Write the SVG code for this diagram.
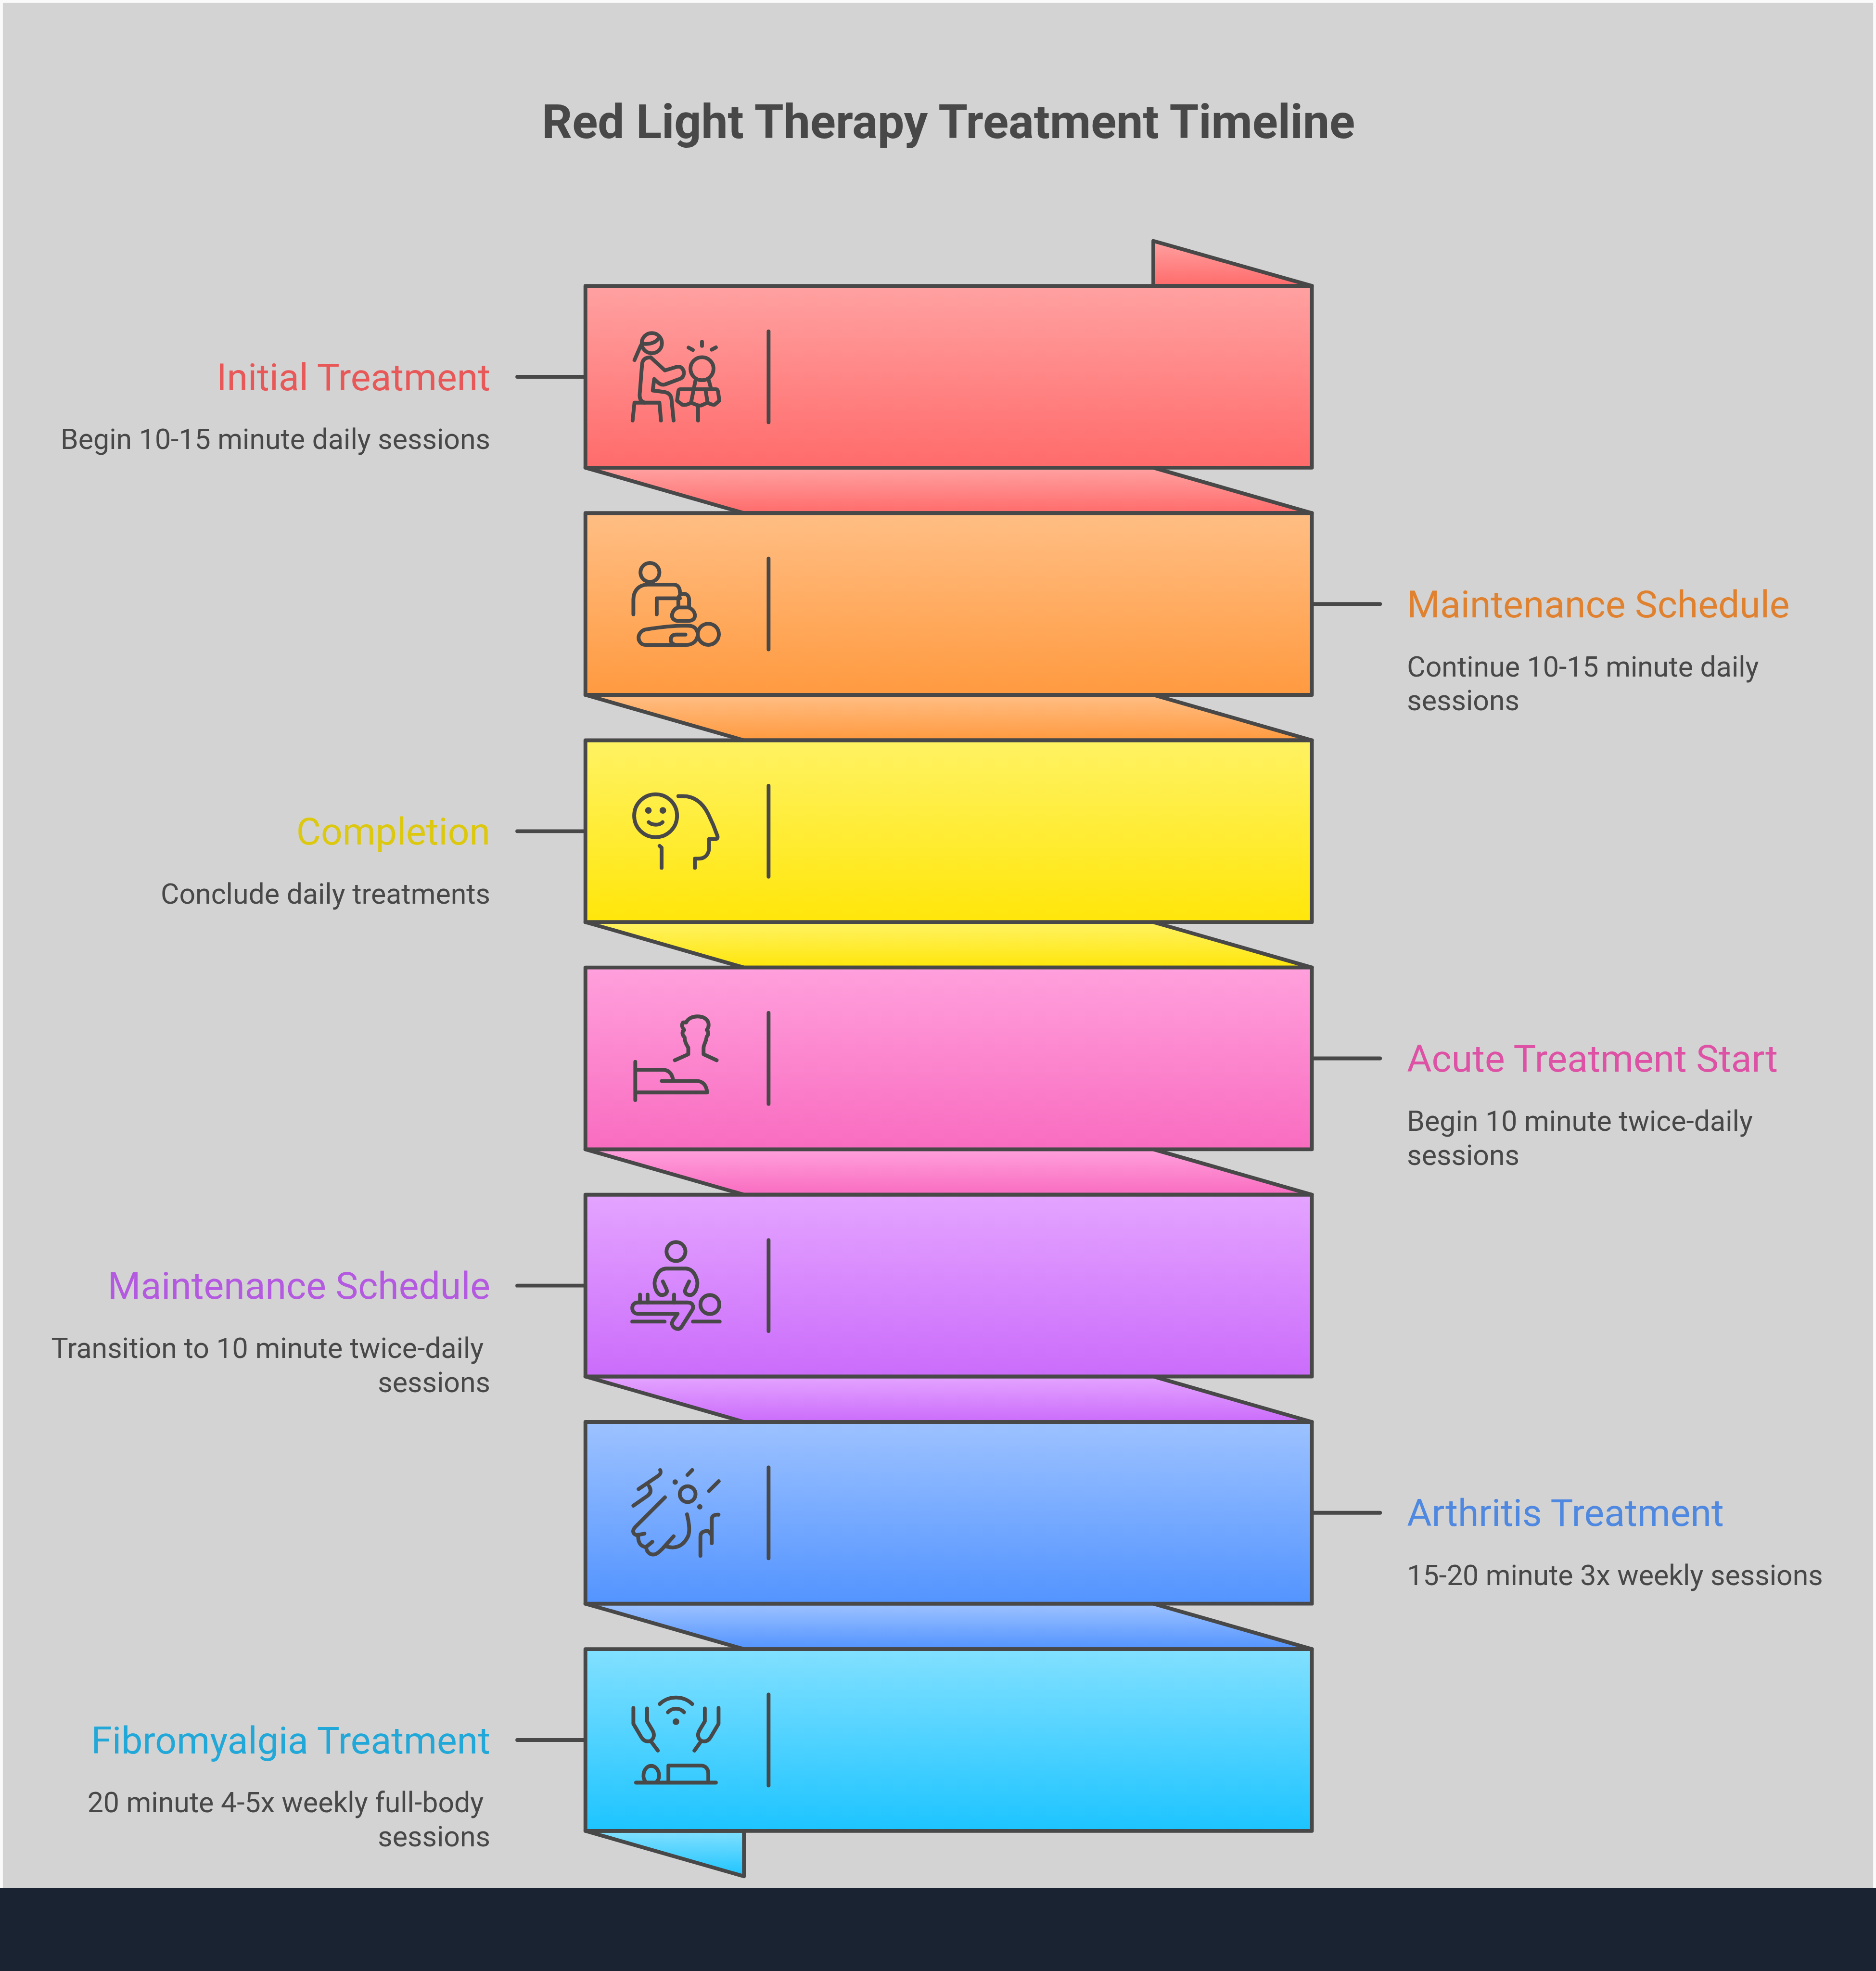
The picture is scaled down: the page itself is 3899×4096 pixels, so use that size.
<svg xmlns="http://www.w3.org/2000/svg" width="3899" height="4096" viewBox="0 0 3899 4096">
<defs>
<linearGradient id="g1" x1="0" y1="0" x2="0" y2="1"><stop offset="0" stop-color="#ffa1a1"/><stop offset="1" stop-color="#ff6b6b"/></linearGradient>
<linearGradient id="g2" x1="0" y1="0" x2="0" y2="1"><stop offset="0" stop-color="#ffbe84"/><stop offset="1" stop-color="#ff9a40"/></linearGradient>
<linearGradient id="g3" x1="0" y1="0" x2="0" y2="1"><stop offset="0" stop-color="#fff263"/><stop offset="1" stop-color="#ffe60a"/></linearGradient>
<linearGradient id="g4" x1="0" y1="0" x2="0" y2="1"><stop offset="0" stop-color="#ffa0dc"/><stop offset="1" stop-color="#f96cc0"/></linearGradient>
<linearGradient id="g5" x1="0" y1="0" x2="0" y2="1"><stop offset="0" stop-color="#e4a4ff"/><stop offset="1" stop-color="#cb6cfb"/></linearGradient>
<linearGradient id="g6" x1="0" y1="0" x2="0" y2="1"><stop offset="0" stop-color="#9dc2ff"/><stop offset="1" stop-color="#5394ff"/></linearGradient>
<linearGradient id="g7" x1="0" y1="0" x2="0" y2="1"><stop offset="0" stop-color="#82e0ff"/><stop offset="1" stop-color="#1dc4ff"/></linearGradient>
</defs>
<style>
.s{stroke:#484848;stroke-width:8;stroke-linejoin:round;stroke-linecap:round}
.i{fill:none;stroke:#484848;stroke-width:24;stroke-linejoin:round;stroke-linecap:round}
.d{fill:#484848;stroke:none}
text{font-family:Roboto,"Liberation Sans",sans-serif}
.t{font-size:100px;font-weight:700;fill:#484848;text-anchor:middle}
.h{font-size:80px}
.b{font-size:60px;fill:#484848}
.r{text-anchor:end}
</style>
<rect width="3899" height="4096" fill="#fafafa"/>
<g transform="scale(0.98361 0.98367)">
<rect x="6" y="6" width="3952" height="3984" fill="#d3d3d3"/>
<rect x="0" y="3989" width="3964" height="175" fill="#1a2332"/>
<text class="t" x="2004" y="292">Red Light Therapy Treatment Timeline</text>

<g id="connectors" class="s">
<line x1="1093" y1="796" x2="1237" y2="796"/>
<line x1="2772" y1="1276" x2="2916" y2="1276"/>
<line x1="1093" y1="1756" x2="1237" y2="1756"/>
<line x1="2772" y1="2236" x2="2916" y2="2236"/>
<line x1="1093" y1="2716" x2="1237" y2="2716"/>
<line x1="2772" y1="3196" x2="2916" y2="3196"/>
<line x1="1093" y1="3676" x2="1237" y2="3676"/>
</g>

<g id="step1">
<polygon class="s" fill="url(#g1)" points="2437,509 2772,604 2437,604"/>
<polygon class="s" fill="url(#g1)" points="1237,988 2437,988 2772,1084 1572,1084"/>
<rect class="s" fill="url(#g1)" x="1237" y="604" width="1535" height="384"/>
<line class="s" x1="1624" y1="700" x2="1624" y2="892"/>
<g class="i" transform="translate(1220 480) scale(.3333)">
<circle cx="472" cy="735" r="64"/>
<path d="M408 738C450 745 495 735 515 705M402 750L362 842"/>
<path d="M465 825L555 908L630 885C660 878 678 905 675 930C672 950 660 960 640 965L555 997C530 1005 510 985 487 962L478 1035L555 1045C585 1050 595 1070 597 1095L610 1225"/>
<path d="M465 825C430 825 412 840 410 870L395 1060C393 1090 405 1105 425 1112"/>
<path d="M350 1225L362 1112L520 1112L530 1225"/>
<circle cx="790" cy="897" r="73"/>
<path d="M650 1027L880 1027C890 1027 892 1040 893 1050L900 1100L870 1125C855 1128 840 1120 825 1112L785 1130L765 1130L720 1112C705 1122 685 1130 665 1125L632 1100L640 1040C640 1033 645 1027 650 1027Z"/>
<path d="M748 975L722 1105M833 970L848 1025M812 1030L825 1108M765 1130L765 1225M705 763L732 778M790 726L790 752M852 776L878 762"/>
</g>
<text class="h r" fill="#e85858" x="1036" y="824">Initial Treatment</text>
<text class="b r" x="1036" y="949">Begin 10-15 minute daily sessions</text>
</g>

<g id="step2">
<polygon class="s" fill="url(#g2)" points="1237,1468 2437,1468 2772,1564 1572,1564"/>
<rect class="s" fill="url(#g2)" x="1237" y="1084" width="1535" height="384"/>
<line class="s" x1="1624" y1="1180" x2="1624" y2="1372"/>
<g class="i" transform="translate(1280 1150) scale(.3333)">
<circle cx="280" cy="178" r="60"/>
<path d="M175 443L175 350C175 295 210 255 265 255L430 255C460 255 470 280 470 305"/>
<path d="M323 443L323 342L470 342"/>
<path d="M460 395L460 350C460 325 475 313 495 313C515 313 528 330 528 350L528 395"/>
<path d="M460 400L525 400C550 410 565 430 565 452C565 475 545 485 520 485L460 485C435 485 420 470 420 452C420 425 440 405 460 400Z"/>
<path d="M505 572L445 572C420 572 412 590 412 605C412 620 425 637 445 637"/>
<path d="M510 637L250 637C225 637 208 615 208 592C208 565 230 545 250 540C340 525 420 515 510 515L540 517C575 525 590 560 580 590C570 620 545 637 510 637Z"/>
<circle cx="650" cy="570" r="67"/>
</g>
<text class="h" fill="#e0812f" x="2973" y="1304">Maintenance Schedule</text>
<text class="b" x="2973" y="1429">Continue 10-15 minute daily</text>
<text class="b" x="2973" y="1501">sessions</text>
</g>

<g id="step3">
<polygon class="s" fill="url(#g3)" points="1237,1948 2437,1948 2772,2044 1572,2044"/>
<rect class="s" fill="url(#g3)" x="1237" y="1564" width="1535" height="384"/>
<line class="s" x1="1624" y1="1660" x2="1624" y2="1852"/>
<g class="i" transform="translate(1280 1640) scale(.3333)">
<circle cx="316" cy="250" r="136"/>
<circle class="d" cx="270" cy="216" r="21"/>
<circle class="d" cx="362" cy="216" r="21"/>
<path d="M272 291C295 312 340 312 360 291M341 441L354 453L354 580"/>
<path d="M460 126L490 126C570 126 620 180 650 240C675 290 695 340 708 378C712 392 705 398 695 398L655 398L655 460C650 500 625 522 590 522L565 522L565 580"/>
</g>
<text class="h r" fill="#dcc80f" x="1036" y="1784">Completion</text>
<text class="b r" x="1036" y="1909">Conclude daily treatments</text>
</g>

<g id="step4">
<polygon class="s" fill="url(#g4)" points="1237,2428 2437,2428 2772,2524 1572,2524"/>
<rect class="s" fill="url(#g4)" x="1237" y="2044" width="1535" height="384"/>
<line class="s" x1="1624" y1="2140" x2="1624" y2="2332"/>
<g class="i" transform="translate(1280 2110) scale(.3333)">
<path d="M187 400L187 642M187 450L360 450C400 450 420 475 427 515M355 521L575 521C615 521 640 550 642 594L187 594"/>
<path d="M438 390L523 352L523 310C515 295 500 280 500 245C485 230 480 210 497 198C480 175 480 165 490 150L510 150C520 125 550 112 580 112C620 112 652 130 652 165C652 185 645 190 640 198C655 210 650 230 640 240C635 280 620 290 620 310L620 352L703 390"/>
</g>
<text class="h" fill="#dd52a5" x="2973" y="2264">Acute Treatment Start</text>
<text class="b" x="2973" y="2389">Begin 10 minute twice-daily</text>
<text class="b" x="2973" y="2461">sessions</text>
</g>

<g id="step5">
<polygon class="s" fill="url(#g5)" points="1237,2908 2437,2908 2772,3004 1572,3004"/>
<rect class="s" fill="url(#g5)" x="1237" y="2524" width="1535" height="384"/>
<line class="s" x1="1624" y1="2620" x2="1624" y2="2812"/>
<g class="i" transform="translate(1280 2590) scale(.3333)">
<circle cx="445" cy="162" r="60"/>
<path d="M362 352L385 400C395 425 375 438 355 438C335 438 325 420 318 405C305 375 305 350 320 320C335 285 360 270 385 270L505 270C530 270 555 285 570 320C585 350 585 375 572 405C565 420 555 438 535 438C515 438 495 425 505 400L528 352"/>
<path d="M217 435L217 485M265 435L265 485M433 435L433 485"/>
<path d="M205 485L520 485C550 485 560 510 550 530L480 640C465 660 440 655 425 635C415 620 420 610 425 600L455 557L205 557C180 557 168 540 168 520C168 500 180 485 205 485Z"/>
<path d="M168 606L373 606M553 606L722 606"/>
<circle cx="660" cy="498" r="60"/>
</g>
<text class="h r" fill="#b45ae0" x="1036" y="2744">Maintenance Schedule</text>
<text class="b r" x="1022" y="2869">Transition to 10 minute twice-daily</text>
<text class="b r" x="1036" y="2941">sessions</text>
</g>

<g id="step6">
<polygon class="s" fill="url(#g6)" points="1237,3388 2437,3388 2772,3484 1572,3484"/>
<rect class="s" fill="url(#g6)" x="1237" y="3004" width="1535" height="384"/>
<line class="s" x1="1624" y1="3100" x2="1624" y2="3292"/>
<g class="i" transform="translate(1280 3070) scale(.3333)">
<path d="M345 107C352 125 345 135 330 145L208 228M275 210C290 235 285 255 265 270L175 333"/>
<path d="M375 280L190 465C165 490 170 510 195 520L245 510M205 525C205 560 215 590 255 595L295 562"/>
<path d="M255 595C260 630 285 650 315 640C330 635 345 620 360 605L430 527M380 590C440 610 490 590 520 530C535 500 530 450 515 388"/>
<circle class="d" cx="440" cy="183" r="17"/>
<circle class="d" cx="596" cy="340" r="17"/>
<circle cx="519" cy="260" r="50"/>
<path d="M518 138L548 107M654 240L716 178"/>
<path d="M600 650L600 530C600 500 620 492 650 494L672 520M672 570L672 420C672 395 690 388 715 390"/>
</g>
<text class="h" fill="#4f88e0" x="2973" y="3224">Arthritis Treatment</text>
<text class="b" x="2973" y="3349">15-20 minute 3x weekly sessions</text>
</g>

<g id="step7">
<polygon class="s" fill="url(#g7)" points="1237,3868 1572,3964 1572,3868"/>
<rect class="s" fill="url(#g7)" x="1237" y="3484" width="1535" height="384"/>
<line class="s" x1="1624" y1="3580" x2="1624" y2="3772"/>
<g class="i" transform="translate(1220 3500) scale(.3333)">
<path d="M355 325L355 425L405 510C420 535 440 540 460 535C490 520 490 490 475 465L442 410L442 328M465 535L510 595"/>
<path d="M895 325L895 425L845 510C830 535 810 540 790 535C760 520 760 490 775 465L808 410L808 328M785 535L742 595"/>
<path d="M522 300C580 245 670 245 728 300M574 352C600 322 650 322 676 352"/>
<circle class="d" cx="625" cy="412" r="21"/>
<path d="M372 798L878 798M430 790C405 755 425 692 468 692C510 692 535 755 505 790M577 795L577 690L785 690C815 690 830 715 830 740L830 795"/>
</g>
<text class="h r" fill="#22a8d8" x="1036" y="3704">Fibromyalgia Treatment</text>
<text class="b r" x="1022" y="3829">20 minute 4-5x weekly full-body</text>
<text class="b r" x="1036" y="3901">sessions</text>
</g>
</g>
</svg>
